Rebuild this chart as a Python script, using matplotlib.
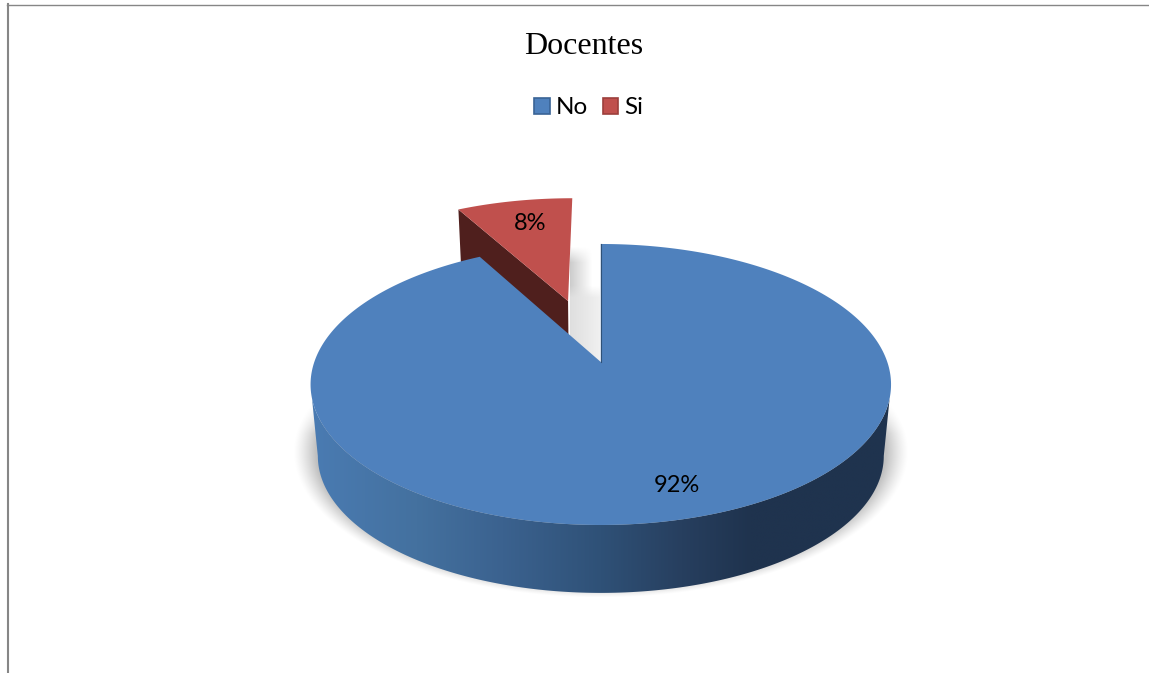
import numpy as np
import matplotlib
matplotlib.use("Agg")
import matplotlib.pyplot as plt
from matplotlib.patches import Polygon, Patch
from matplotlib.colors import LinearSegmentedColormap

title = "Docentes"
categories = ["No", "Si"]
values = [92, 8]
labels = ["92%", "8%"]
colors = ["#4F81BD", "#C0504D"]
explode = [0.0, 0.495]

# projection of the tilted pie plane to pixels
CX, CY, A, B, K = 600.8, 362.0, 286.5, 136.9, 0.16
DEPTH, SHRINK = 72.0, 0.975

def project(X, Y, low=False):
    d = 1 + K * Y
    s = SHRINK if low else 1.0
    x = CX + s * A * X / d
    y = CY - s * B * Y / d + (DEPTH if low else 0.0)
    return x, y

def rim(t0, t1, ex=(0.0, 0.0), low=False, n=400):
    t = np.linspace(t0, t1, n)
    return project(np.sin(t) + ex[0], np.cos(t) + ex[1], low)

fig = plt.figure(figsize=(11.49, 6.73), dpi=100, facecolor="white")
ax = fig.add_axes([0, 0, 1, 1])
ax.set_xlim(0, 1149)
ax.set_ylim(673, 0)
ax.axis("off")

# frame
ax.add_line(plt.Line2D([8, 8], [4, 673], color="#868686", lw=1.5, zorder=1))
ax.add_line(plt.Line2D([7, 1149], [4.5, 4.5], color="#868686", lw=1.0, zorder=1))

# soft shadow under the pie
px, py = np.meshgrid(np.arange(270, 935), np.arange(385, 597))
r = np.hypot((px + 0.5 - 601) / 308, (py + 0.5 - 452) / 146)
sh = np.clip((1 - r) / 0.075, 0, 1) ** 1.3 * np.clip((py - 388) / 45, 0, 1) * 0.25
rgba = np.zeros(sh.shape + (4,))
rgba[..., 3] = sh
ax.imshow(rgba, extent=(270, 935, 597, 385), aspect="auto", zorder=2, interpolation="bilinear")

# shadow in the gap left by the exploded slice
gx, gy = np.meshgrid(np.arange(570, 600), np.arange(246, 364))
up = np.clip(1 - (gx - 570) / 22, 0, 1) * np.clip((gy - 246) / 16, 0, 1) * 0.20
lo = (0.13 - 0.07 * (gx - 570) / 30)
mix = np.clip((gy - 285) / 12, 0, 1)
g = np.zeros(gx.shape + (4,))
g[..., 3] = up * (1 - mix) + lo * mix
ax.imshow(g, extent=(570, 600, 364, 246), aspect="auto", zorder=2, interpolation="bilinear")
ax.set_xlim(0, 1149)
ax.set_ylim(673, 0)

fracs = np.array(values) / np.sum(values)
tau = 2 * np.pi
a_no = fracs[0] * tau          # clockwise from 12 o'clock
a_si = fracs[1] * tau
mid = a_no + a_si / 2
ex = (explode[1] * np.sin(mid), explode[1] * np.cos(mid))

# exploded slice: side wall and top
tip = project(ex[0], ex[1])
tip_l = project(ex[0], ex[1], True)
cx_t, cy_t = project(np.sin(a_no) + ex[0], np.cos(a_no) + ex[1])
cx_b, cy_b = project(np.sin(a_no) + ex[0], np.cos(a_no) + ex[1], True)
ax.add_patch(Polygon([tip, (cx_t, cy_t), (cx_b, cy_b), tip_l], closed=True,
                     facecolor="#4F1F1D", edgecolor="none", zorder=3))
sx, sy = rim(a_no, tau, ex)
ax.add_patch(Polygon(np.r_[[tip], np.c_[sx, sy]], closed=True,
                     facecolor=colors[1], edgecolor="none", zorder=4))

# large slice: gradient outer wall between the silhouette points, and top
sil = np.arccos(-K)
tx, ty = rim(sil, tau - sil)
bx, by = rim(sil, tau - sil, low=True)
wall = Polygon(np.r_[np.c_[tx, ty], np.c_[bx, by][::-1]], closed=True,
               facecolor="none", edgecolor="none", zorder=5)
ax.add_patch(wall)
cmap = LinearSegmentedColormap.from_list("w", [
    (0.00, "#4A7BB2"), (0.18, "#44719F"), (0.33, "#3B628F"),
    (0.50, "#2F5177"), (0.64, "#273F5F"), (0.76, "#1F334E"), (1.00, "#1F334E")])
im = ax.imshow(np.linspace(0, 1, 256)[None, :], extent=(312, 890, 600, 380), aspect="auto",
               cmap=cmap, vmin=0, vmax=1, zorder=5, interpolation="bilinear")
im.set_clip_path(wall)
ax.set_xlim(0, 1149)
ax.set_ylim(673, 0)

nx, ny = rim(0, a_no)
ax.add_patch(Polygon(np.r_[[project(0, 0)], np.c_[nx, ny]], closed=True,
                     facecolor=colors[0], edgecolor="none", zorder=6))
ax.plot([CX, CX], [CY, 244], color="#2F5177", lw=0.8, zorder=6)

# labels
ax.text(677, 485, labels[0], ha="center", va="center", fontsize=17, family="Lato", color="black", zorder=7)
ax.text(530.5, 223, labels[1], ha="center", va="center", fontsize=17, family="Lato", color="black", zorder=7)
ax.text(583.5, 46, title, ha="center", va="center", fontsize=23, family="Liberation Serif", color="black", zorder=7)

# legend
handles = [Patch(facecolor=c, edgecolor=e, lw=1.2) for c, e in zip(colors, ["#3A6496", "#9C3F3C"])]
ax.legend(handles, categories, ncol=2, loc="center", bbox_to_anchor=(589, 108),
          bbox_transform=ax.transData, frameon=False,
          prop={"family": "Lato", "size": 17.5}, handlelength=0.64, handleheight=0.64,
          handletextpad=0.25, columnspacing=0.6, borderpad=0, borderaxespad=0)

fig.savefig("out.png", dpi=100, facecolor="white")
